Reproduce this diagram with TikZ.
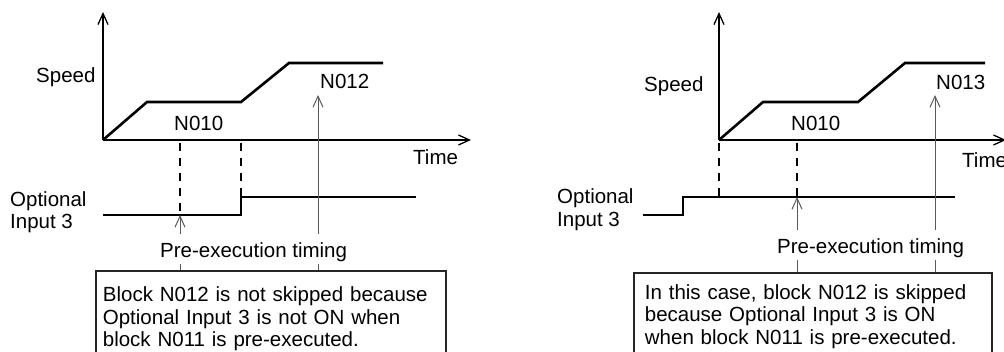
\documentclass[tikz,border=0pt]{standalone}
\usepackage{fontspec}
\setmainfont{Liberation Sans}
\usetikzlibrary{positioning, arrows.meta}

\begin{document}
\begin{tikzpicture}[x=1pt, y=-1pt, font=\fontsize{20.5}{22.5}\selectfont, >={Straight Barb[length=11pt, width=10pt]}]
        \tikzstyle{axis} = [draw=black, line width=1.3pt]
        \tikzstyle{signal} = [draw=black, line width=2.6pt]
        \tikzstyle{guide} = [draw=black, line width=1.2pt, dash pattern=on 8pt off 7pt]
        \tikzstyle{pointer} = [draw=black!65, line width=1pt]
        \tikzstyle{label} = [inner sep=0pt, anchor=base west]
        \tikzstyle{timing} = [label, fill=white, inner xsep=2pt, inner ysep=2pt, text height=22pt, text depth=4pt]
        \tikzstyle{notebox} = [draw=black!85, line width=1.8pt, fill=white, anchor=north west, align=left, inner xsep=7pt]

        \useasboundingbox (0,0) rectangle (1004,352);
        \clip (0,0) rectangle (1004,352);

        % left case: input goes ON too late
        \coordinate (o1) at (103,140);
        \coordinate (ytop1) at (103,12);
        \coordinate (xend1) at (471,140);
        \coordinate (pre1) at (180,215);
        \coordinate (up1) at (241,197);
        \coordinate (tip1) at (318,95);

        \draw[axis, ->] (o1) -- (ytop1);
        \draw[axis, ->] (o1) -- (xend1);
        \draw[signal] (o1) -- (147,102) -- (241,102) -- (289,63) -- (383,63);
        \draw[signal] (103,215) -- (241,215) -- (up1) -- (416,197);
        \draw[guide] ([yshift=-3pt]o1 -| pre1) -- (pre1);
        \draw[guide] ([yshift=-3pt]o1 -| up1) -- (up1);

        \node[notebox, text width=336pt, inner ysep=16pt] (note1) at (95,270) {Block N012 is not skipped because\\Optional Input 3 is not ON when\\block N011 is pre-executed.};
        \draw[pointer, ->] (note1.north -| pre1) -- (pre1);
        \draw[pointer, ->] (note1.north -| tip1) -- (tip1);

        \node[label] (speed1) at (36,83) {Speed};
        \node[label] (blk12) at (320,89) {N012};
        \node[label] (blk10a) at (174,131) {N010};
        \node[label] (time1) at (413,165) {Time};
        \node[inner sep=0pt, anchor=west, align=left] (opt1) at (10,212) {Optional\\Input 3};
        \node[timing] (pre1txt) at (158,258) {Pre-execution timing};

        % right case: input already ON
        \coordinate (o2) at (719,140);
        \coordinate (ytop2) at (719,12);
        \coordinate (xend2) at (1006,140);
        \coordinate (pre2) at (797,197);
        \coordinate (tip2) at (935,95);

        \draw[axis, ->] (o2) -- (ytop2);
        \draw[axis, ->] (o2) -- (xend2);
        \draw[signal] (o2) -- (763,102) -- (858,102) -- (905,63) -- (985,63);
        \draw[signal] (643,215) -- (683,215) -- (683,197) -- (955,197);
        \draw[guide] ([yshift=-3pt]o2) -- (o2 |- pre2);
        \draw[guide] ([yshift=-3pt]o2 -| pre2) -- (pre2);

        \node[notebox, text width=336pt, inner xsep=11pt, inner ysep=11.5pt] (note2) at (633,272) {In this case, block N012 is skipped\\because Optional Input 3 is ON\\when block N011 is pre-executed.};
        \draw[pointer, ->] (note2.north -| pre2) -- (pre2);
        \draw[pointer, ->] (note2.north -| tip2) -- (tip2);

        \node[label] (speed2) at (644,92) {Speed};
        \node[label] (blk13) at (936,90) {N013};
        \node[label] (blk10b) at (791,131) {N010};
        \node[label] (time2) at (962,168) {Time};
        \node[inner sep=0pt, anchor=west, align=left] (opt2) at (557,209.5) {Optional\\Input 3};
        \node[timing] (pre2txt) at (775,254) {Pre-execution timing};
    \end{tikzpicture}
\end{document}
